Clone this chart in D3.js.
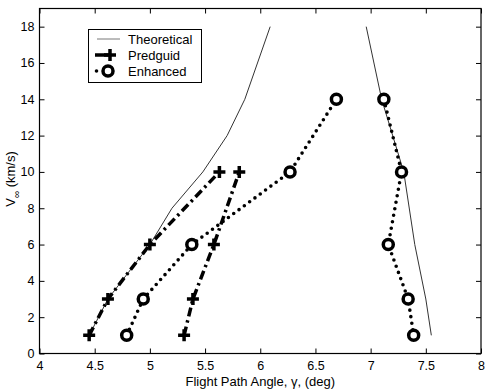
<!DOCTYPE html>
<html><head><meta charset="utf-8">
<script src="https://cdn.jsdelivr.net/npm/d3@7"></script>
<style>body{margin:0;background:#fff}svg{display:block}text{font-family:"Liberation Sans",Arial,sans-serif}</style>
</head><body>
<svg id="c" width="488" height="392"></svg>
<script>
const xTicks = [4,4.5,5,5.5,6,6.5,7,7.5,8];
const yTicks = [0,2,4,6,8,10,12,14,16,18];
const theoLeftX = [4.45,4.62,5.0,5.2,5.48,5.7,5.86,6.09];
const theoLeftY = [1,3,6,8,10,12,14,18];
const theoRightX = [6.96,7.1,7.3,7.4,7.5,7.55];
const theoRightY = [18,14,10,6,3,1];
const predAX = [4.45,4.62,5.0,5.63];
const predAY = [1,3,6,10];
const predBX = [5.31,5.39,5.58,5.81];
const predBY = [1,3,6,10];
const enhAX = [4.79,4.94,5.38,6.27,6.69];
const enhAY = [1,3,6,10,14];
const enhBX = [7.12,7.28,7.16,7.34,7.39];
const enhBY = [14,10,6,3,1];
const legendLabels = ["Theoretical","Predguid","Enhanced"];

const svg = d3.select("#c");
const L=39.5, R=481, T=8.5, B=353.5;
const x = d3.scaleLinear().domain([4,8]).range([L,R]);
const y = d3.scaleLinear().domain([0,19]).range([B,T]);
const pts = (xs,ys)=>xs.map((v,i)=>[v,ys[i]]);
const line = d3.line().x(d=>x(d[0])).y(d=>y(d[1]));

// frame
svg.append("rect").attr("x",L).attr("y",T).attr("width",R-L).attr("height",B-T).attr("fill","none").attr("stroke","#000").attr("stroke-width",1.2);
// axes
const fs = 12.5;
svg.append("g").attr("transform",`translate(0,${B})`).call(d3.axisBottom(x).tickValues(xTicks).tickSize(-5).tickPadding(8).tickFormat(d3.format("")))
  .call(g=>{g.select(".domain").remove();g.selectAll("text").attr("font-size",fs).attr("fill","#000");});
svg.append("g").attr("transform",`translate(0,${T})`).call(d3.axisTop(x).tickValues(xTicks).tickSize(-5).tickFormat(""))
  .call(g=>g.select(".domain").remove());
svg.append("g").attr("transform",`translate(${L},0)`).call(d3.axisLeft(y).tickValues(yTicks).tickSize(-5).tickPadding(5))
  .call(g=>{g.select(".domain").remove();g.selectAll("text").attr("font-size",fs).attr("fill","#000");});
svg.append("g").attr("transform",`translate(${R},0)`).call(d3.axisRight(y).tickValues(yTicks).tickSize(-5).tickFormat(""))
  .call(g=>g.select(".domain").remove());

// theoretical
[[theoLeftX,theoLeftY],[theoRightX,theoRightY]].forEach(([a,b])=>{
  svg.append("path").attr("d",line(pts(a,b))).attr("fill","none").attr("stroke","#333").attr("stroke-width",1);
});
// predguid
[[predAX,predAY],[predBX,predBY]].forEach(([a,b])=>{
  svg.append("path").attr("d",line(pts(a,b))).attr("fill","none").attr("stroke","#000").attr("stroke-width",3.5).attr("stroke-dasharray","9,4,2.5,4");
  svg.selectAll(null).data(pts(a,b)).enter().append("path")
    .attr("d",d=>`M${x(d[0])-6},${y(d[1])}h12M${x(d[0])},${y(d[1])-6}v12`).attr("stroke","#000").attr("stroke-width",3.5);
});
// enhanced
[[enhAX,enhAY],[enhBX,enhBY]].forEach(([a,b])=>{
  svg.append("path").attr("d",line(pts(a,b))).attr("fill","none").attr("stroke","#000").attr("stroke-width",3.6).attr("stroke-linecap","round").attr("stroke-dasharray","0,6.6");
  svg.selectAll(null).data(pts(a,b)).enter().append("circle")
    .attr("cx",d=>x(d[0])).attr("cy",d=>y(d[1])).attr("r",5).attr("fill","#fff").attr("stroke","#000").attr("stroke-width",3.5);
});

// legend
const lg = svg.append("g");
lg.append("rect").attr("x",88.5).attr("y",29.5).attr("width",113).attr("height",53).attr("fill","#fff").attr("stroke","#000").attr("stroke-width",1);
const rows=[39,55,71];
legendLabels.forEach((t,i)=>{
  lg.append("text").attr("x",128).attr("y",rows[i]+4.5).attr("font-size",13).text(t);
});
lg.append("line").attr("x1",97).attr("x2",120).attr("y1",rows[0]).attr("y2",rows[0]).attr("stroke","#555").attr("stroke-width",0.8);
lg.append("line").attr("x1",95).attr("x2",110).attr("y1",rows[1]).attr("y2",rows[1]).attr("stroke","#000").attr("stroke-width",3.5);
lg.append("path").attr("d",`M${110-6},${rows[1]}h12M110,${rows[1]-6}v12`).attr("stroke","#000").attr("stroke-width",3.5);
lg.append("circle").attr("cx",96.5).attr("cy",rows[2]).attr("r",1.8).attr("fill","#000");
lg.append("circle").attr("cx",108).attr("cy",rows[2]).attr("r",5).attr("fill","#fff").attr("stroke","#000").attr("stroke-width",3.5);

// axis labels
svg.append("text").attr("x",(L+R)/2).attr("y",386).attr("text-anchor","middle").attr("font-size",13).text("Flight Path Angle, γ, (deg)");
const yl = svg.append("text").attr("transform",`translate(15,179) rotate(-90)`).attr("text-anchor","middle").attr("font-size",13);
yl.append("tspan").text("V");
yl.append("tspan").attr("dy",5).attr("font-size",10).text("∞");
yl.append("tspan").attr("dy",-5).text(" (km/s)");
</script>
</body></html>
